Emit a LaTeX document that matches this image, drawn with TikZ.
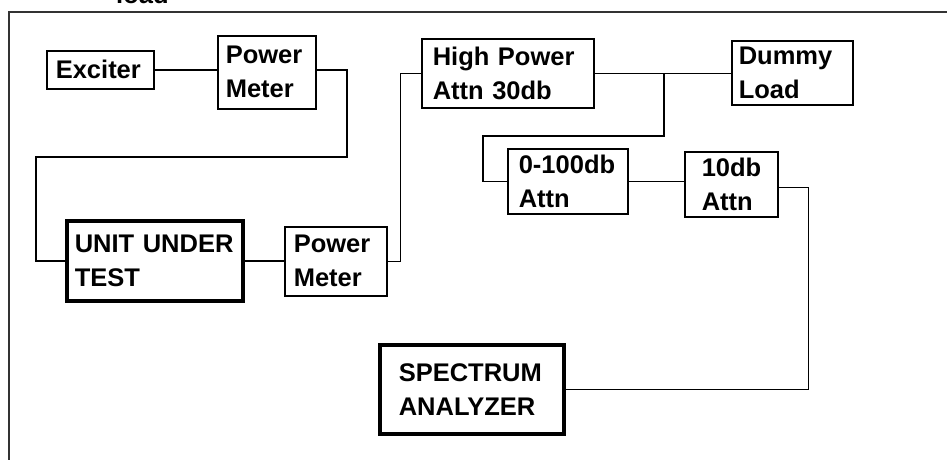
\documentclass[tikz,border=0pt]{standalone}
\usepackage{fontspec}
\setmainfont{Liberation Sans}
\begin{document}
\begin{tikzpicture}[x=1pt,y=-1pt,
  lbl/.style={font=\fontsize{25.5}{34}\selectfont\bfseries},
  blk/.style={draw, rectangle, lbl, line width=1.6pt, anchor=north west,
    inner ysep=0pt, align=left},
  heavy/.style={line width=3.6pt},
  wire/.style={line width=1.6pt},
  frame/.style={line width=2pt, draw=black!80}]
\useasboundingbox (0,0) rectangle (947,460);
\fill[white] (0,0) rectangle (947,460);
% frame
\draw[frame] (9,460) -- (9,12) -- (947,12);
\node[lbl, anchor=base west, inner sep=0pt] (toptxt) at (116,4) {load};
% blocks
\node[blk, minimum width=107, minimum height=38, text width=89, inner xsep=9] (exc) at (46,50) {Exciter};
\node[blk, minimum width=98, minimum height=73, text width=82, inner xsep=8] (pm1) at (217,35) {Power\\Meter};
\node[blk, minimum width=172, minimum height=69, text width=150, inner xsep=11] (hpa) at (421,38) {High Power\\Attn 30db};
\node[blk, minimum width=121, minimum height=64, text width=107, inner xsep=7] (dl) at (731,40) {Dummy\\Load};
\node[blk, minimum width=120, minimum height=65, text width=98, inner xsep=11] (a100) at (507,148) {0-100db\\Attn};
\node[blk, minimum width=93, minimum height=65, text width=59, inner xsep=17] (a10) at (684,151) {10db\\Attn};
\node[blk, heavy, minimum width=176, minimum height=80, text width=160, inner xsep=8] (uut) at (65,219) {UNIT UNDER\\TEST};
\node[blk, minimum width=102, minimum height=69, text width=84, inner xsep=9] (pm2) at (284,226) {Power\\Meter};
\node[blk, heavy, minimum width=184, minimum height=89, text width=146, inner xsep=19] (sa) at (378,343) {SPECTRUM\\ANALYZER};
% connectors
\coordinate (c1) at (347,157);
\coordinate (c2) at (36,157);
\coordinate (br) at (664,136);
\coordinate (c3) at (483,136);
\draw[wire] (exc.east) -- (exc.east -| pm1.west);
\draw[wire] (pm1.east |- exc.east) -| (c1) -- (c2) |- (uut.west);
\draw[wire] (uut.east) -- (uut.east -| pm2.west);
\draw[wire] (pm2.east) -- ++(13,0) |- (hpa.west);
\draw[wire] (hpa.east) -- (hpa.east -| dl.west);
\draw[wire] (hpa.east -| br) -- (br) -- (c3) |- (a100.west);
\draw[wire] (a100.east) -- (a100.east -| a10.west);
\draw[wire] ([yshift=-3]a10.east) -- ++(30,0) |- (sa.east);
\end{tikzpicture}
\end{document}
